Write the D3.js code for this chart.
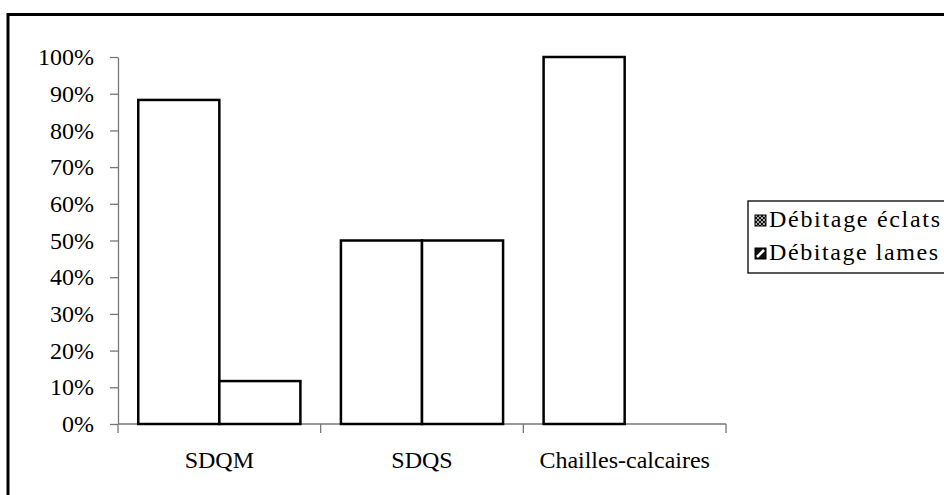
<!DOCTYPE html>
<html>
<head>
<meta charset="utf-8">
<script src="https://cdn.jsdelivr.net/npm/d3@7"></script>
<style>
  body { margin: 0; background: #fff; }
  svg { display: block; font-family: "Liberation Serif", "Times New Roman", serif; }
</style>
</head>
<body>
<div id="chart"></div>
<script>
// data
const categories = ["SDQM", "SDQS", "Chailles-calcaires"];
const seriesNames = ["Débitage éclats", "Débitage lames"];
const eclats = [0.883, 0.5, 1.0];
const lames = [0.117, 0.5, 0.0];
const yTicks = [0, 0.1, 0.2, 0.3, 0.4, 0.5, 0.6, 0.7, 0.8, 0.9, 1.0];

const W = 944, H = 495;
const svg = d3.select("#chart").append("svg")
    .attr("width", W).attr("height", H);

// outer frame (runs off the right/bottom edge like the original)
svg.append("rect")
    .attr("x", 8).attr("y", 14.5)
    .attr("width", 960).attr("height", 520)
    .attr("fill", "#fff").attr("stroke", "#000").attr("stroke-width", 3);

const plot = { left: 118, right: 726, top: 57, bottom: 424 };

const x0 = d3.scaleBand().domain(categories)
    .range([plot.left, plot.right]).paddingInner(0.2).paddingOuter(0.1);
const x1 = d3.scaleBand().domain(seriesNames)
    .range([0, x0.bandwidth()]);
const y = d3.scaleLinear().domain([0, 1]).range([plot.bottom, plot.top]);

// y axis
const yAxis = svg.append("g")
    .attr("transform", `translate(${plot.left},0)`)
    .call(d3.axisLeft(y).tickValues(yTicks).tickSize(8).tickSizeOuter(0)
        .tickFormat(d3.format(".0%")));
yAxis.selectAll("line, path").attr("stroke", "#777").attr("stroke-width", 1.3);
yAxis.selectAll("text").attr("font-size", 24).attr("fill", "#000")
    .attr("font-family", "Liberation Serif, serif").attr("x", -24);

// x axis: ticks between categories
const boundaries = d3.range(categories.length + 1)
    .map(i => plot.left + i * (plot.right - plot.left) / categories.length);
const xg = svg.append("g");
xg.append("line")
    .attr("x1", plot.left).attr("x2", plot.right)
    .attr("y1", plot.bottom).attr("y2", plot.bottom)
    .attr("stroke", "#777").attr("stroke-width", 1.3);
xg.selectAll(".tk").data(boundaries).enter().append("line")
    .attr("x1", d => d).attr("x2", d => d)
    .attr("y1", plot.bottom).attr("y2", plot.bottom + 9)
    .attr("stroke", "#777").attr("stroke-width", 1.3);
xg.selectAll(".lbl").data(categories).enter().append("text")
    .attr("x", (d, i) => (boundaries[i] + boundaries[i + 1]) / 2)
    .attr("y", 468)
    .attr("text-anchor", "middle")
    .attr("font-size", 24)
    .text(d => d);

// bars (white with heavy outline)
const rows = categories.map((c, i) => ({ cat: c, vals: [eclats[i], lames[i]] }));
const groups = svg.selectAll(".grp").data(rows).enter().append("g")
    .attr("transform", d => `translate(${x0(d.cat)},0)`);
groups.selectAll("rect")
    .data(d => d.vals.map((v, k) => ({ s: seriesNames[k], v })).filter(e => e.v > 0))
    .enter().append("rect")
    .attr("x", d => x1(d.s))
    .attr("y", d => y(d.v))
    .attr("width", x1.bandwidth())
    .attr("height", d => y(0) - y(d.v))
    .attr("fill", "#fff")
    .attr("stroke", "#000")
    .attr("stroke-width", 2.5);

// legend patterns
const defs = svg.append("defs");
const p1 = defs.append("pattern").attr("id", "pat-eclats")
    .attr("patternUnits", "userSpaceOnUse").attr("width", 4).attr("height", 4);
p1.append("rect").attr("width", 4).attr("height", 4).attr("fill", "#111");
p1.append("rect").attr("x", 0).attr("y", 0).attr("width", 2).attr("height", 2).attr("fill", "#aaa");
p1.append("rect").attr("x", 2).attr("y", 2).attr("width", 2).attr("height", 2).attr("fill", "#aaa");
const p2 = defs.append("pattern").attr("id", "pat-lames")
    .attr("patternUnits", "userSpaceOnUse").attr("width", 11).attr("height", 11);
p2.append("rect").attr("width", 11).attr("height", 11).attr("fill", "#111");
p2.append("path").attr("d", "M2,9 L9,2").attr("stroke", "#fff").attr("stroke-width", 2.5);

const legend = svg.append("g");
legend.append("rect")
    .attr("x", 748).attr("y", 201)
    .attr("width", 220).attr("height", 72)
    .attr("fill", "#fff").attr("stroke", "#000").attr("stroke-width", 1.3);
const fills = ["url(#pat-eclats)", "url(#pat-lames)"];
const li = legend.selectAll(".li").data(seriesNames).enter().append("g")
    .attr("transform", (d, i) => `translate(755,${215 + i * 33})`);
li.append("rect").attr("width", 11).attr("height", 11)
    .attr("fill", (d, i) => fills[i]).attr("stroke", "#000").attr("stroke-width", 1);
li.append("text").attr("x", 14).attr("y", 12)
    .attr("font-size", 24)
    .attr("textLength", (d, i) => i === 0 ? 171 : 169)
    .attr("lengthAdjust", "spacing")
    .text(d => d);
</script>
</body>
</html>
